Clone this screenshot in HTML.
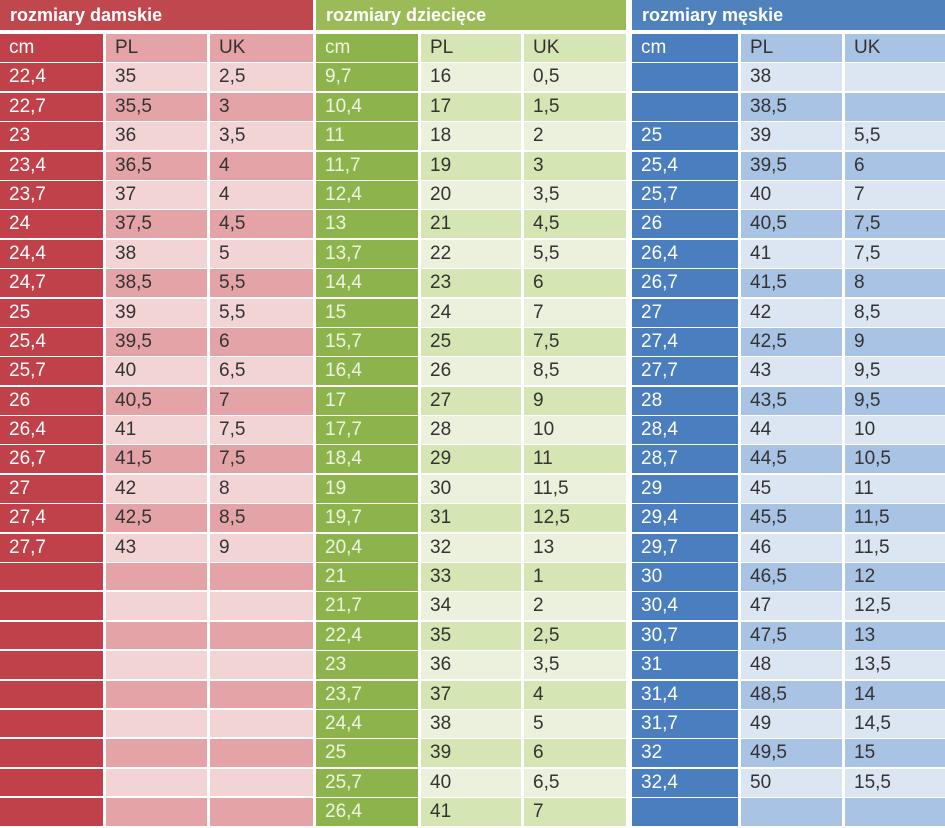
<!DOCTYPE html>
<html><head><meta charset="utf-8"><style>
*{margin:0;padding:0;box-sizing:border-box}
body{width:945px;height:828px;background:#fff;overflow:hidden;position:relative;font-family:"Liberation Sans",sans-serif;font-size:19px;color:#333}
.s{position:absolute;top:0}
.t{height:30px;line-height:30px;color:#fff;padding-left:10px;font-size:18px;font-weight:bold;margin-bottom:4px}
.r{display:grid;height:27.4px;margin-bottom:2px;line-height:28px;column-gap:3px}
.r div{padding-left:9px;white-space:nowrap}
#w{left:0;width:313px}#k{left:316px;width:310px}#m{left:632px;width:313px}
#w .r{grid-template-columns:103px 101px 103px}
#k .r{grid-template-columns:102px 100px 102px}
#m .r{grid-template-columns:106px 101px 100px}
#w .t{background:#c0474e}#k .t{background:#9bbb59}#m .t{background:#4f81bd}
#w .r div:first-child{background:#c0414a;color:#fff}
#w .r:nth-child(even) div+div{background:#e4a3a7}
#w .r:nth-child(odd) div+div{background:#f3d4d5}
#k .r div:first-child{background:#8db44c;color:#f0f5e2}
#k .r:nth-child(even) div+div{background:#d5e5b3}
#k .r:nth-child(odd) div+div{background:#ebf1dc}
#m .r div:first-child{background:#4a7ebe;color:#fff}
#m .r:nth-child(even) div+div{background:#a9c3e5}
#m .r:nth-child(odd) div+div{background:#dce6f2}
</style></head><body>
<div class="s" id="w"><div class="t">rozmiary damskie</div>
<div class="r"><div>cm</div><div>PL</div><div>UK</div></div>
<div class="r"><div>22,4</div><div>35</div><div>2,5</div></div>
<div class="r"><div>22,7</div><div>35,5</div><div>3</div></div>
<div class="r"><div>23</div><div>36</div><div>3,5</div></div>
<div class="r"><div>23,4</div><div>36,5</div><div>4</div></div>
<div class="r"><div>23,7</div><div>37</div><div>4</div></div>
<div class="r"><div>24</div><div>37,5</div><div>4,5</div></div>
<div class="r"><div>24,4</div><div>38</div><div>5</div></div>
<div class="r"><div>24,7</div><div>38,5</div><div>5,5</div></div>
<div class="r"><div>25</div><div>39</div><div>5,5</div></div>
<div class="r"><div>25,4</div><div>39,5</div><div>6</div></div>
<div class="r"><div>25,7</div><div>40</div><div>6,5</div></div>
<div class="r"><div>26</div><div>40,5</div><div>7</div></div>
<div class="r"><div>26,4</div><div>41</div><div>7,5</div></div>
<div class="r"><div>26,7</div><div>41,5</div><div>7,5</div></div>
<div class="r"><div>27</div><div>42</div><div>8</div></div>
<div class="r"><div>27,4</div><div>42,5</div><div>8,5</div></div>
<div class="r"><div>27,7</div><div>43</div><div>9</div></div>
<div class="r"><div></div><div></div><div></div></div>
<div class="r"><div></div><div></div><div></div></div>
<div class="r"><div></div><div></div><div></div></div>
<div class="r"><div></div><div></div><div></div></div>
<div class="r"><div></div><div></div><div></div></div>
<div class="r"><div></div><div></div><div></div></div>
<div class="r"><div></div><div></div><div></div></div>
<div class="r"><div></div><div></div><div></div></div>
<div class="r"><div></div><div></div><div></div></div>
</div>
<div class="s" id="k"><div class="t">rozmiary dziecięce</div>
<div class="r"><div>cm</div><div>PL</div><div>UK</div></div>
<div class="r"><div>9,7</div><div>16</div><div>0,5</div></div>
<div class="r"><div>10,4</div><div>17</div><div>1,5</div></div>
<div class="r"><div>11</div><div>18</div><div>2</div></div>
<div class="r"><div>11,7</div><div>19</div><div>3</div></div>
<div class="r"><div>12,4</div><div>20</div><div>3,5</div></div>
<div class="r"><div>13</div><div>21</div><div>4,5</div></div>
<div class="r"><div>13,7</div><div>22</div><div>5,5</div></div>
<div class="r"><div>14,4</div><div>23</div><div>6</div></div>
<div class="r"><div>15</div><div>24</div><div>7</div></div>
<div class="r"><div>15,7</div><div>25</div><div>7,5</div></div>
<div class="r"><div>16,4</div><div>26</div><div>8,5</div></div>
<div class="r"><div>17</div><div>27</div><div>9</div></div>
<div class="r"><div>17,7</div><div>28</div><div>10</div></div>
<div class="r"><div>18,4</div><div>29</div><div>11</div></div>
<div class="r"><div>19</div><div>30</div><div>11,5</div></div>
<div class="r"><div>19,7</div><div>31</div><div>12,5</div></div>
<div class="r"><div>20,4</div><div>32</div><div>13</div></div>
<div class="r"><div>21</div><div>33</div><div>1</div></div>
<div class="r"><div>21,7</div><div>34</div><div>2</div></div>
<div class="r"><div>22,4</div><div>35</div><div>2,5</div></div>
<div class="r"><div>23</div><div>36</div><div>3,5</div></div>
<div class="r"><div>23,7</div><div>37</div><div>4</div></div>
<div class="r"><div>24,4</div><div>38</div><div>5</div></div>
<div class="r"><div>25</div><div>39</div><div>6</div></div>
<div class="r"><div>25,7</div><div>40</div><div>6,5</div></div>
<div class="r"><div>26,4</div><div>41</div><div>7</div></div>
</div>
<div class="s" id="m"><div class="t">rozmiary męskie</div>
<div class="r"><div>cm</div><div>PL</div><div>UK</div></div>
<div class="r"><div></div><div>38</div><div></div></div>
<div class="r"><div></div><div>38,5</div><div></div></div>
<div class="r"><div>25</div><div>39</div><div>5,5</div></div>
<div class="r"><div>25,4</div><div>39,5</div><div>6</div></div>
<div class="r"><div>25,7</div><div>40</div><div>7</div></div>
<div class="r"><div>26</div><div>40,5</div><div>7,5</div></div>
<div class="r"><div>26,4</div><div>41</div><div>7,5</div></div>
<div class="r"><div>26,7</div><div>41,5</div><div>8</div></div>
<div class="r"><div>27</div><div>42</div><div>8,5</div></div>
<div class="r"><div>27,4</div><div>42,5</div><div>9</div></div>
<div class="r"><div>27,7</div><div>43</div><div>9,5</div></div>
<div class="r"><div>28</div><div>43,5</div><div>9,5</div></div>
<div class="r"><div>28,4</div><div>44</div><div>10</div></div>
<div class="r"><div>28,7</div><div>44,5</div><div>10,5</div></div>
<div class="r"><div>29</div><div>45</div><div>11</div></div>
<div class="r"><div>29,4</div><div>45,5</div><div>11,5</div></div>
<div class="r"><div>29,7</div><div>46</div><div>11,5</div></div>
<div class="r"><div>30</div><div>46,5</div><div>12</div></div>
<div class="r"><div>30,4</div><div>47</div><div>12,5</div></div>
<div class="r"><div>30,7</div><div>47,5</div><div>13</div></div>
<div class="r"><div>31</div><div>48</div><div>13,5</div></div>
<div class="r"><div>31,4</div><div>48,5</div><div>14</div></div>
<div class="r"><div>31,7</div><div>49</div><div>14,5</div></div>
<div class="r"><div>32</div><div>49,5</div><div>15</div></div>
<div class="r"><div>32,4</div><div>50</div><div>15,5</div></div>
<div class="r"><div></div><div></div><div></div></div>
</div>
</body></html>
